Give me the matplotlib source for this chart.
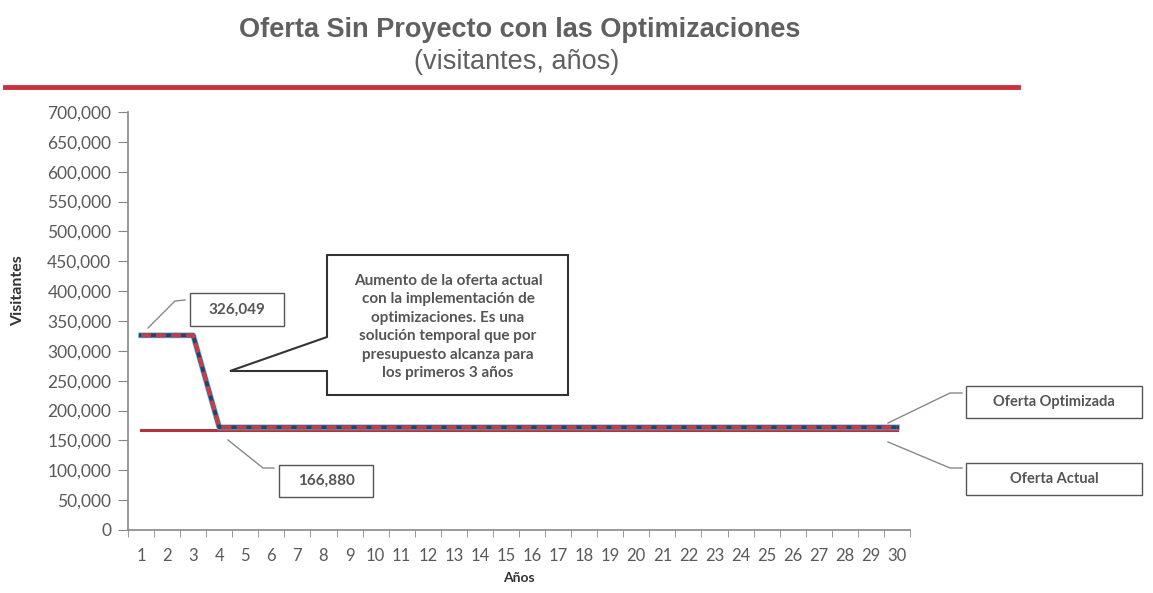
import matplotlib.pyplot as plt
from matplotlib.patches import Polygon, Rectangle
from matplotlib.lines import Line2D
import numpy as np

plt.rcParams['font.family'] = ['Lato', 'DejaVu Sans']

years = list(range(1, 31))
oferta_optimizada = [326049] * 3 + [172000] * 27
oferta_actual = [166880] * 30
y_ticks = list(range(0, 700001, 50000))

W, H = 1153, 593
GRAY = '#595959'


def px(x, y):
    # pixel (from top-left) -> figure fraction
    return x / W, 1 - y / H


fig = plt.figure(figsize=(W / 100, H / 100), dpi=100)
ax = fig.add_axes([128 / W, 63 / H, 782 / W, 418 / H])

ax.plot(years, oferta_actual, color='#b0323f', lw=2.2, zorder=3)
ax.plot(years, oferta_optimizada, color='#6cc3e0', lw=4.2, zorder=4)
ax.plot(years, oferta_optimizada, color='#2c3e6b', lw=3.0, zorder=5)
ax.plot(years, oferta_optimizada, color='#c0404a', lw=3.0, ls=(0, (2.4, 1.2)), zorder=6)

ax.set_xlim(0.5, 30.5)
ax.set_ylim(0, 700000)
ax.set_yticks(y_ticks)
ax.set_yticklabels([f'{v:,}' for v in y_ticks])
ax.set_xticks(years)
ax.set_xticks(np.arange(0.5, 31, 1), minor=True)
ax.tick_params(axis='x', which='major', length=0, pad=13, labelsize=12, labelcolor=GRAY)
ax.tick_params(axis='x', which='minor', length=5, color='#888888', direction='out')
ax.tick_params(axis='y', length=7, color='#888888', labelsize=12.5, labelcolor=GRAY, pad=5)
for s in ['top', 'right']:
    ax.spines[s].set_visible(False)
for s in ['left', 'bottom']:
    ax.spines[s].set_color('#888888')
    ax.spines[s].set_linewidth(1.2)

fig.text(*px(18, 291), 'Visitantes', rotation=90, ha='center', va='center',
         fontsize=11.5, fontweight='bold', color='#333333')
ax.set_xlabel('Años', fontsize=10, fontweight='bold', color='#333333', labelpad=6)

# title block
fig.text(*px(520, 30), 'Oferta Sin Proyecto con las Optimizaciones', ha='center', va='center',
         fontsize=19.5, fontweight='bold', color='#606060', family=['Liberation Sans', 'DejaVu Sans'])
fig.text(*px(517, 62), '(visitantes, años)', ha='center', va='center',
         fontsize=19.5, color='#606060', family=['Liberation Sans', 'DejaVu Sans'])
fig.add_artist(Line2D([5 / W, 1018 / W], [1 - 87 / H, 1 - 87 / H], color='#c8323c', lw=3.5,
                      transform=fig.transFigure))

# callout
callout = [(327, 255), (568, 255), (568, 395), (327, 395), (327, 371), (230, 371), (327, 337)]
fig.add_artist(Polygon([px(x, y) for x, y in callout], closed=True, facecolor='white',
                       edgecolor='#333333', lw=1.5, transform=fig.transFigure, zorder=10))
fig.text(*px(448, 327),
         'Aumento de la oferta actual\ncon la implementación de\noptimizaciones. Es una\n'
         'solución temporal que por\npresupuesto alcanza para\nlos primeros 3 años',
         ha='center', va='center', fontsize=11, fontweight='bold', color='#555555',
         linespacing=1.4, zorder=11)


def label_box(x0, y0, x1, y1, text, leader, size=10.5):
    fig.add_artist(Rectangle(px(x0, y1), (x1 - x0) / W, (y1 - y0) / H, facecolor='white',
                             edgecolor='#555555', lw=1.0, transform=fig.transFigure, zorder=10))
    fig.text(*px((x0 + x1) / 2, (y0 + y1) / 2), text, ha='center', va='center', fontsize=size,
             fontweight='bold', color='#555555', zorder=11)
    xs, ys = zip(*[px(x, y) for x, y in leader])
    fig.add_artist(Line2D(xs, ys, color='#888888', lw=1.0, transform=fig.transFigure))


label_box(190, 293, 284, 326, f'{oferta_optimizada[0]:,}', [(148, 328), (175, 301), (185, 300)], 11)
label_box(279, 465, 373, 497, f'{oferta_actual[0]:,}', [(228, 440), (263, 468), (274, 468)], 11)
label_box(966, 386, 1142, 418, 'Oferta Optimizada', [(888, 423), (950, 393), (962, 393)])
label_box(966, 463, 1142, 495, 'Oferta Actual', [(888, 442), (950, 468), (962, 468)])

fig.savefig('out.png', dpi=100)
